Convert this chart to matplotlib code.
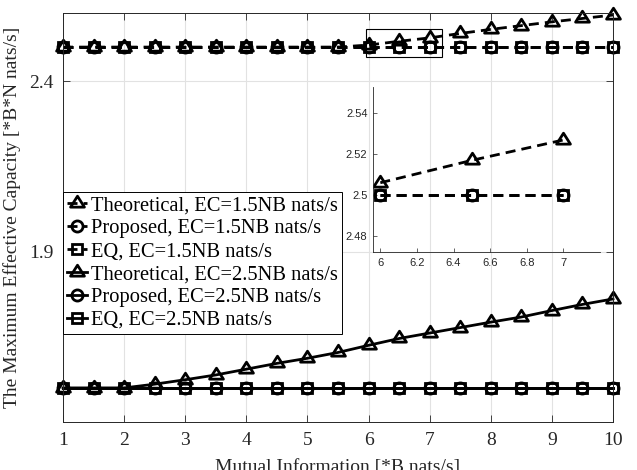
"""
Maximum effective capacity vs mutual information, with a zoomed inset
around x = 6..7 for the EC = 1.5NB curves.
"""

import matplotlib
matplotlib.use("Agg")
import matplotlib.pyplot as plt
from matplotlib.path import Path
from matplotlib.patches import Rectangle

# ── data ───────────────────────────────────────────────────────────────
MI = [1.0, 1.5, 2.0, 2.5, 3.0, 3.5, 4.0, 4.5, 5.0, 5.5,
      6.0, 6.5, 7.0, 7.5, 8.0, 8.5, 9.0, 9.5, 10.0]

THEO_15 = [2.5, 2.5, 2.5, 2.5, 2.5, 2.5, 2.5, 2.5, 2.5, 2.5,
           2.506, 2.517, 2.527, 2.540, 2.552, 2.563, 2.574, 2.584, 2.594]
PROP_15 = [2.5, 2.5, 2.5, 2.5, 2.5, 2.5, 2.5, 2.5, 2.5, 2.5,
           2.5, 2.5, 2.5, 2.5, 2.5, 2.5, 2.5, 2.5, 2.5]
EQ_15 = [2.5, 2.5, 2.5, 2.5, 2.5, 2.5, 2.5, 2.5, 2.5, 2.5,
         2.5, 2.5, 2.5, 2.5, 2.5, 2.5, 2.5, 2.5, 2.5]

THEO_25 = [1.5, 1.5, 1.5, 1.511, 1.524, 1.538, 1.555, 1.572, 1.587, 1.604,
           1.625, 1.645, 1.661, 1.677, 1.693, 1.708, 1.727, 1.745, 1.761]
PROP_25 = [1.5, 1.5, 1.5, 1.5, 1.5, 1.5, 1.5, 1.5, 1.5, 1.5,
           1.5, 1.5, 1.5, 1.5, 1.5, 1.5, 1.5, 1.5, 1.5]
EQ_25 = [1.5, 1.5, 1.5, 1.5, 1.5, 1.5, 1.5, 1.5, 1.5, 1.5,
         1.5, 1.5, 1.5, 1.5, 1.5, 1.5, 1.5, 1.5, 1.5]

LABELS = ["Theoretical, EC=1.5NB nats/s",
          "Proposed, EC=1.5NB nats/s",
          "EQ, EC=1.5NB nats/s",
          "Theoretical, EC=2.5NB nats/s",
          "Proposed, EC=2.5NB nats/s",
          "EQ, EC=2.5NB nats/s"]

XTICKS = [1, 2, 3, 4, 5, 6, 7, 8, 9, 10]
YTICKS = [1.9, 2.4]
INSET_XTICKS = [6, 6.2, 6.4, 6.6, 6.8, 7]
INSET_YTICKS = [2.48, 2.5, 2.52, 2.54]
INSET_XLIM = (5.96, 7.2)
INSET_YLIM = (2.472, 2.553)
INSET_RANGE = slice(10, 13)     # points x = 6, 6.5, 7 shown in the inset

# ── style ──────────────────────────────────────────────────────────────
SERIF = "Liberation Serif"
SANS = "Liberation Sans"
AXCOL = "#262626"
GRIDCOL = "#e2e2e2"
DASH = (0, (3.6, 2.2))

# MATLAB-like triangle: data point on the centroid, a bit wider than tall
TRI = Path([(0, 1), (-0.95, -0.5), (0.95, -0.5), (0, 0)],
           [Path.MOVETO, Path.LINETO, Path.LINETO, Path.CLOSEPOLY])

STYLES = [(DASH, TRI, 10.5), (DASH, "o", 8), (DASH, "s", 7.5),
          ("-", TRI, 10.5), ("-", "o", 8), ("-", "s", 7.5)]
SERIES = [THEO_15, PROP_15, EQ_15, THEO_25, PROP_25, EQ_25]


def draw(ax, n, sl=slice(None), clip=True, with_labels=True):
    handles = []
    for (ls, mk, ms), y, lab in list(zip(STYLES, SERIES, LABELS))[:n]:
        h, = ax.plot(MI[sl], y[sl], color="k", ls=ls, lw=2.0, marker=mk,
                     ms=ms, mfc="none", mec="k", mew=2.0, clip_on=clip,
                     label=lab if with_labels else None)
        handles.append(h)
    return handles


fig = plt.figure(figsize=(6.37, 4.70), dpi=100)
ax = fig.add_axes([63 / 637, 48 / 470, 550 / 637, 409 / 470])

handles = draw(ax, 6, clip=False)

ax.set_xlim(1, 10)
ax.set_ylim(1.4, 2.6)
ax.set_xticks(XTICKS)
ax.set_yticks(YTICKS)
ax.set_yticklabels([f"{v:.1f}" for v in YTICKS])
ax.grid(True, color=GRIDCOL, lw=0.8)
ax.set_axisbelow(True)
ax.tick_params(direction="in", length=5, width=0.6, color=AXCOL,
               top=True, right=True, labelsize=14, labelcolor=AXCOL, pad=7)
for lab in ax.get_xticklabels() + ax.get_yticklabels():
    lab.set_fontfamily(SERIF)
for sp in ax.spines.values():
    sp.set_color(AXCOL)
    sp.set_linewidth(0.7)

ax.set_xlabel("Mutual Information [*B nats/s]", fontsize=14,
              fontfamily=SERIF, color=AXCOL)
ax.set_ylabel("The Maximum Effective Capacity [*B*N nats/s]", fontsize=14,
              fontfamily=SERIF, color=AXCOL)
ax.xaxis.set_label_coords(0.5, -0.091)
ax.yaxis.set_label_coords(-0.077, 0.5)

# zoom box on the main axes
ax.add_patch(Rectangle((INSET_XLIM[0], INSET_YLIM[0]),
                       INSET_XLIM[1] - INSET_XLIM[0],
                       INSET_YLIM[1] - INSET_YLIM[0],
                       fill=False, ec="k", lw=0.8, zorder=5))

leg = ax.legend(handles=handles, loc="upper left",
                bbox_to_anchor=(0, (422 - 192) / 409), borderaxespad=0,
                prop={"family": SERIF, "size": 14.8}, fancybox=False,
                edgecolor="k", framealpha=1, handlelength=0.95,
                handletextpad=0.2, labelspacing=0.17, borderpad=0.2,
                numpoints=1)
leg.get_frame().set_linewidth(0.7)
leg.set_zorder(10)

# ── inset ──────────────────────────────────────────────────────────────
ins = fig.add_axes([373 / 637, 218 / 470, 227 / 637, 165 / 470])
ins.patch.set_alpha(0)
draw(ins, 3, sl=INSET_RANGE, clip=True, with_labels=False)
ins.set_xlim(*INSET_XLIM)
ins.set_ylim(*INSET_YLIM)
ins.set_xticks(INSET_XTICKS)
ins.set_xticklabels(["6", "6.2", "6.4", "6.6", "6.8", "7"])
ins.set_yticks(INSET_YTICKS)
ins.set_yticklabels(["2.48", "2.5", "2.52", "2.54"])
ins.tick_params(direction="in", length=3, width=0.5, color=AXCOL,
                labelsize=8, labelcolor=AXCOL, pad=4)
for lab in ins.get_xticklabels() + ins.get_yticklabels():
    lab.set_fontfamily(SANS)
ins.spines["top"].set_visible(False)
ins.spines["right"].set_visible(False)
for s in ("left", "bottom"):
    ins.spines[s].set_color(AXCOL)
    ins.spines[s].set_linewidth(0.6)

fig.savefig("out.png", dpi=100)
